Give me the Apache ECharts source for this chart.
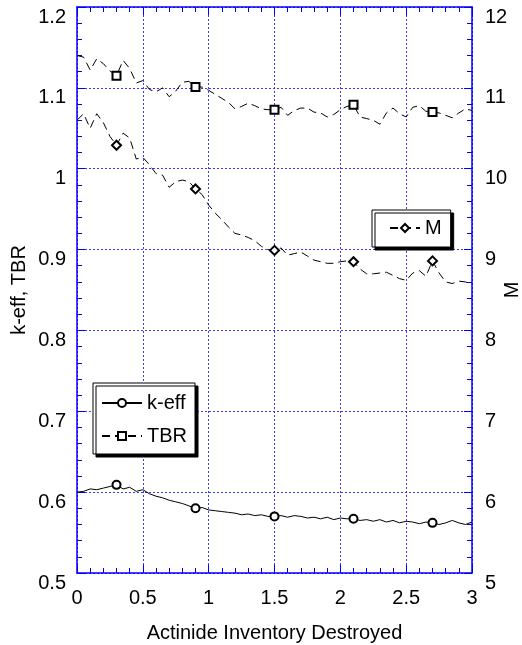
<!DOCTYPE html>
<html>
<head>
<meta charset="utf-8">
<title>k-eff, TBR, M</title>
<script src="https://cdn.jsdelivr.net/npm/echarts@6/dist/echarts.min.js"></script>
<style>
  html, body { margin: 0; padding: 0; background: #fff; }
  #chart { width: 522px; height: 645px; }
</style>
</head>
<body>
<div id="chart"></div>
<script>
// actinide inventory destroyed (x)
var xs = [0, 0.05, 0.1, 0.15, 0.2, 0.25, 0.3, 0.35, 0.4, 0.45,
  0.5, 0.55, 0.6, 0.65, 0.7, 0.75, 0.8, 0.85, 0.9, 0.95,
  1.0, 1.05, 1.1, 1.15, 1.2, 1.25, 1.3, 1.35, 1.4, 1.45,
  1.5, 1.55, 1.6, 1.65, 1.7, 1.75, 1.8, 1.85, 1.9, 1.95,
  2.0, 2.05, 2.1, 2.15, 2.2, 2.25, 2.3, 2.35, 2.4, 2.45,
  2.5, 2.55, 2.6, 2.65, 2.7, 2.75, 2.8, 2.85, 2.9, 2.95, 3.0];

var keff = [0.600, 0.601, 0.604, 0.603, 0.605, 0.607, 0.609, 0.604, 0.606, 0.601,
  0.603, 0.598, 0.595, 0.593, 0.590, 0.588, 0.586, 0.583, 0.580, 0.581,
  0.578, 0.577, 0.576, 0.575, 0.574, 0.572, 0.573, 0.571, 0.572, 0.570,
  0.570, 0.571, 0.569, 0.571, 0.570, 0.568, 0.569, 0.567, 0.569, 0.566,
  0.568, 0.567, 0.567, 0.565, 0.566, 0.564, 0.566, 0.563, 0.565, 0.562,
  0.564, 0.563, 0.561, 0.563, 0.562, 0.560, 0.562, 0.565, 0.562, 0.560, 0.563];

var tbr = [1.140, 1.138, 1.122, 1.136, 1.130, 1.121, 1.115, 1.134, 1.124, 1.106,
  1.109, 1.098, 1.095, 1.100, 1.089, 1.096, 1.107, 1.108, 1.101, 1.101,
  1.097, 1.092, 1.087, 1.082, 1.074, 1.077, 1.081, 1.078, 1.074, 1.073,
  1.073, 1.076, 1.066, 1.072, 1.075, 1.075, 1.070, 1.069, 1.064, 1.067,
  1.073, 1.077, 1.079, 1.064, 1.062, 1.060, 1.055, 1.069, 1.075, 1.068,
  1.064, 1.076, 1.078, 1.071, 1.070, 1.069, 1.066, 1.063, 1.069, 1.074, 1.072];

// M on the right axis
var mult = [10.60, 10.68, 10.50, 10.68, 10.57, 10.40, 10.29, 10.44, 10.38, 10.12,
  10.14, 10.05, 9.94, 9.92, 9.77, 9.84, 9.86, 9.84, 9.75, 9.68,
  9.55, 9.45, 9.37, 9.28, 9.20, 9.18, 9.15, 9.11, 9.04, 9.00,
  8.99, 9.02, 8.93, 8.95, 8.97, 8.92, 8.87, 8.85, 8.83, 8.83,
  8.85, 8.86, 8.85, 8.76, 8.70, 8.70, 8.71, 8.72, 8.68, 8.64,
  8.62, 8.71, 8.74, 8.67, 8.86, 8.71, 8.60, 8.58, 8.61, 8.60, 8.57];

// points that carry a marker
var markerIdx = [6, 18, 30, 42, 54];

var blue = '#0000ff';
var gridBlue = '#3a3aff';
var font = '"Liberation Sans", Arial, Helvetica, sans-serif';

function pts(vals) {
  return vals.map(function (v, i) {
    var p = { value: [xs[i], v] };
    if (markerIdx.indexOf(i) < 0) p.symbol = 'none';
    return p;
  });
}

function frameAxis(extra) {
  var a = {
    type: 'value',
    nameMoveOverlap: false,
    axisLine: { show: true, onZero: false, lineStyle: { color: blue, width: 1.5 } },
    axisTick: { show: true, inside: true, length: 8, lineStyle: { color: blue } },
    minorTick: { show: true, splitNumber: 5, length: 5, lineStyle: { color: blue } },
    splitLine: { show: true, lineStyle: { color: gridBlue, width: 1, type: [2, 2] } },
    axisLabel: { color: '#000', fontSize: 20, fontFamily: font },
    nameTextStyle: { color: '#000', fontSize: 20, fontFamily: font }
  };
  for (var k in extra) a[k] = extra[k];
  return a;
}

var chart = echarts.init(document.getElementById('chart'));

var legendBox = {
  orient: 'vertical',
  selectedMode: false,
  backgroundColor: '#fff',
  borderColor: '#000',
  borderWidth: 1,
  borderRadius: 0,
  shadowColor: '#000',
  shadowBlur: 0,
  shadowOffsetX: 3,
  shadowOffsetY: 3,
  itemHeight: 10,
  textStyle: { color: '#000', fontSize: 20, fontFamily: font, lineHeight: 20 }
};

var option = {
  animation: false,
  backgroundColor: '#fff',
  grid: { left: 77, right: 50, top: 7, bottom: 72, containLabel: false, outerBoundsMode: 'none' },
  legend: [
    Object.assign({}, legendBox, {
      data: ['k-eff', 'TBR'],
      left: 93, top: 383,
      padding: [10, 8, 8, 8],
      itemGap: 13,
      itemWidth: 40
    }),
    Object.assign({}, legendBox, {
      data: ['M'],
      left: 372, top: 210,
      padding: [8, 9, 9, 17],
      itemWidth: 30
    })
  ],
  xAxis: [
    frameAxis({
      min: 0, max: 3, interval: 0.5, position: 'bottom',
      axisLabel: { color: '#000', fontSize: 20, fontFamily: font, margin: 15 },
      name: 'Actinide Inventory Destroyed',
      nameLocation: 'middle',
      nameGap: 50
    }),
    frameAxis({
      min: 0, max: 3, interval: 0.5, position: 'top',
      axisLabel: { show: false },
      splitLine: { show: false }
    })
  ],
  yAxis: [
    frameAxis({
      min: 0.5, max: 1.2, interval: 0.1, position: 'left',
      axisLabel: { color: '#000', fontSize: 20, fontFamily: font, margin: 11, verticalAlign: 'top', lineHeight: 20 },
      name: 'k-eff, TBR',
      nameLocation: 'middle',
      nameGap: 48,
      nameRotate: 90
    }),
    frameAxis({
      min: 5, max: 12, interval: 1, position: 'right',
      axisLabel: { color: '#000', fontSize: 20, fontFamily: font, margin: 13, verticalAlign: 'top', lineHeight: 20 },
      splitLine: { show: false },
      name: 'M',
      nameLocation: 'middle',
      nameGap: 30,
      nameRotate: 90
    })
  ],
  series: [
    {
      name: 'k-eff', type: 'line', data: pts(keff),
      xAxisIndex: 0, yAxisIndex: 0,
      symbol: 'emptyCircle', symbolSize: 8,
      lineStyle: { color: '#000', width: 1 },
      itemStyle: { color: '#000', borderWidth: 1 }
    },
    {
      name: 'TBR', type: 'line', data: pts(tbr),
      xAxisIndex: 0, yAxisIndex: 0,
      symbol: 'emptyRect', symbolSize: 8,
      lineStyle: { color: '#000', width: 1, type: [8, 5] },
      itemStyle: { color: '#000', borderWidth: 1 }
    },
    {
      name: 'M', type: 'line', data: pts(mult),
      xAxisIndex: 0, yAxisIndex: 1,
      symbol: 'emptyDiamond', symbolSize: 9,
      lineStyle: { color: '#000', width: 1, type: [8, 5] },
      itemStyle: { color: '#000', borderWidth: 1 }
    }
  ]
};

chart.setOption(option);
</script>
</body>
</html>
